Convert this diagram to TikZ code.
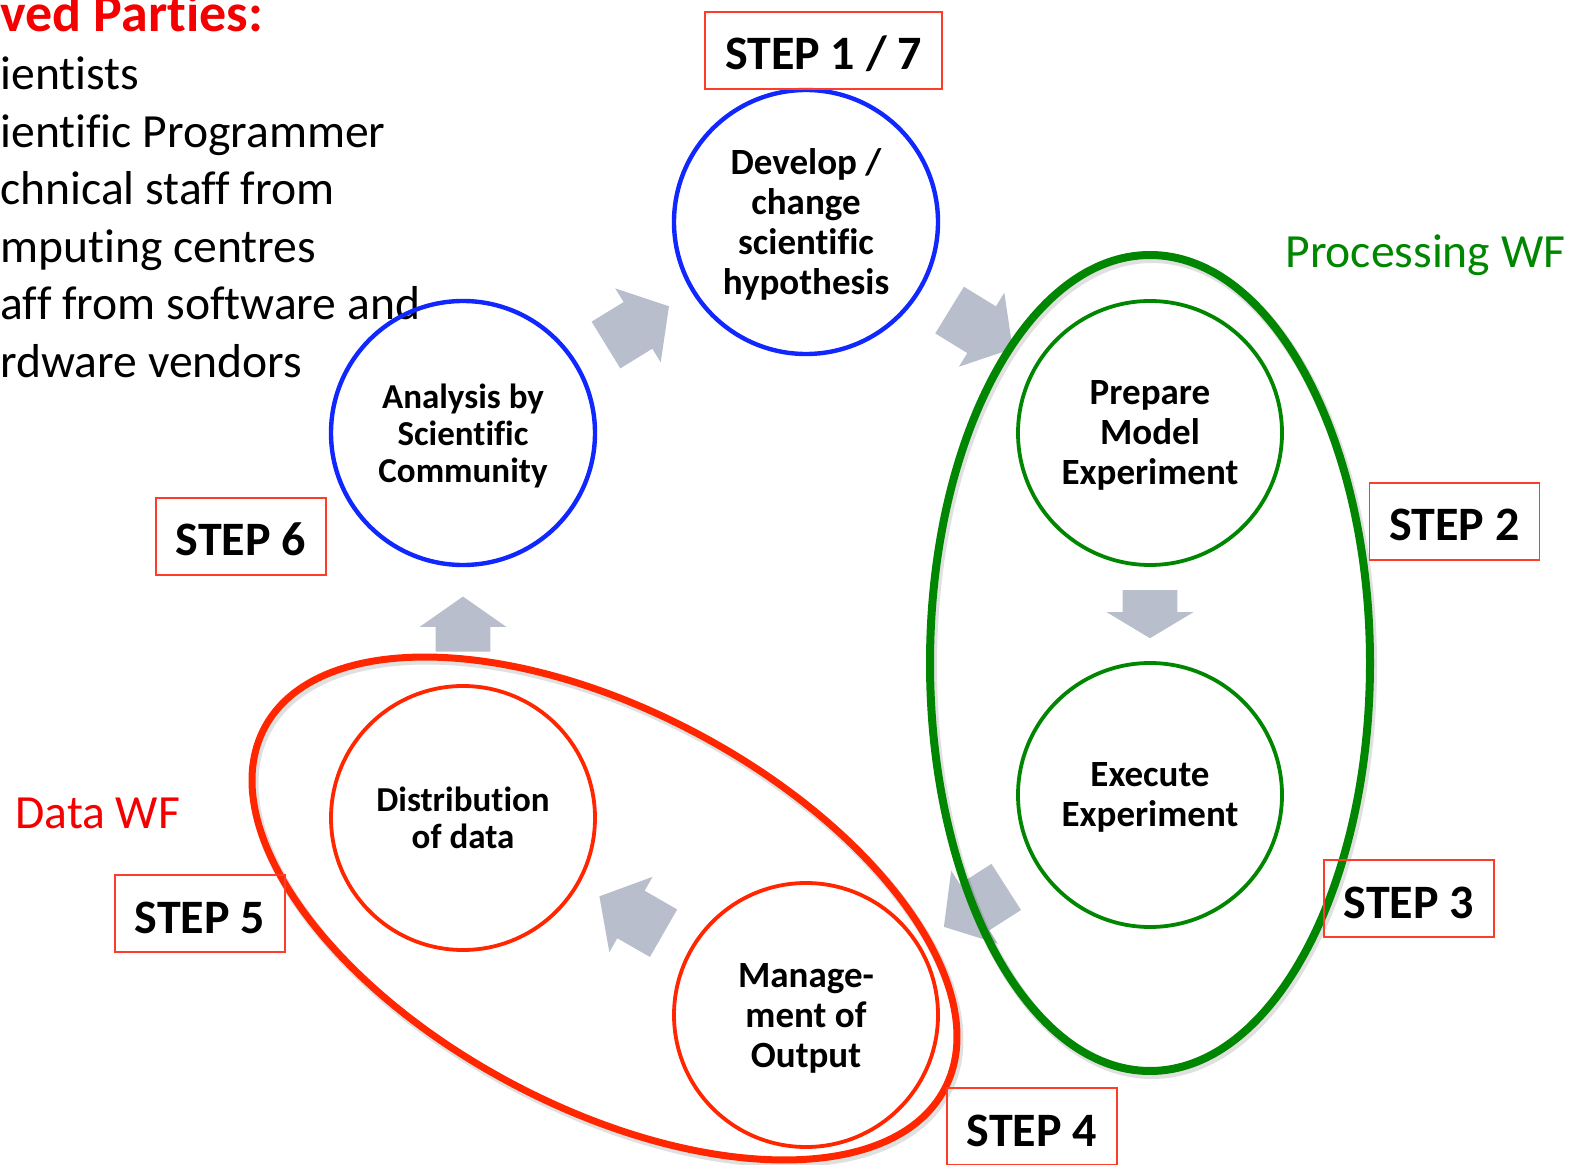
\documentclass[tikz,border=0pt]{standalone}
\usepackage{fontspec}
\setmainfont{Carlito}[Ligatures=NoCommon]
\usetikzlibrary{shapes.arrows}

\definecolor{cycblue}{RGB}{16,40,255}
\definecolor{cycgreen}{RGB}{0,134,0}
\definecolor{cycred}{RGB}{255,38,0}
\definecolor{boxred}{RGB}{255,60,40}
\definecolor{txtred}{RGB}{245,0,0}
\definecolor{arrowgray}{RGB}{184,190,204}

\tikzset{
  stage/.style={circle, draw, line width=1.9pt, minimum size=132pt, inner sep=0pt, align=center,
    text depth=0pt, font=\fontsize{18.5}{20}\selectfont\bfseries},
  stepbox/.style={draw=boxred, line width=0.75pt, minimum width=85pt, minimum height=38.5pt,
    inner sep=0pt, text height=19.5pt, text depth=0pt, font=\fontsize{24}{28}\selectfont\bfseries},
  flowarrow/.style={single arrow, fill=arrowgray, inner xsep=0pt, inner ysep=13.5pt,
    minimum width=43pt, single arrow head extend=8pt, single arrow tip angle=100,
    minimum height=37pt, sloped, allow upside down, xshift=-4pt},
  label/.style={anchor=base west, inner sep=0pt, font=\fontsize{23.8}{28}\selectfont},
}

\begin{document}
\begin{tikzpicture}[x=0.5pt, y=-0.5pt]
\useasboundingbox (0,0) rectangle (1569,1165);

\node[label, text=txtred, font=\fontsize{27}{30}\selectfont\bfseries] (parties) at (0,32) {ved Parties:};
\foreach \txt [count=\i from 0] in {ientists, ientific Programmer, chnical staff from,
    mputing centres, aff from software and, rdware vendors}
  \node[label] (party\i) at (0,{90+57.5*\i}) {\txt};

\node[label, text=cycgreen] (procwf) at (1285,268) {Processing WF};
\node[label, text=txtred] (datawf) at (15,828) {Data WF};

% steps of the cycle
\node[stage, draw=cycblue, line width=2.2pt] (dev) at (806,222) {Develop /\\change\\scientific\\hypothesis};
\node[stage, draw=cycgreen] (prep) at (1150,433) {Prepare\\Model\\Experiment};
\node[stage, draw=cycgreen] (exec) at (1150,795) {Execute\\Experiment};
\node[stage, draw=cycred] (mgmt) at (806,1015) {Manage-\\ment of\\Output};
\node[stage, draw=cycred, font=\fontsize{17.5}{18.5}\selectfont\bfseries] (dist) at (463,818) {Distribution\\of data};
\node[stage, draw=cycblue, line width=2.2pt, font=\fontsize{17.5}{18.5}\selectfont\bfseries] (ana) at (463,433) {Analysis by\\Scientific\\Community};

\path (ana) -- node[flowarrow] {} (dev);
\path (dev) -- node[flowarrow] {} (prep);
\path (prep) -- node[flowarrow, minimum height=24pt, single arrow tip angle=118] {} (exec);
\path (exec) -- node[flowarrow] {} (mgmt);
\path (mgmt) -- node[flowarrow] {} (dist);
\path (dist) -- node[flowarrow, minimum height=27.5pt, single arrow tip angle=110] {} (ana);

% workflow groups
\draw[black, opacity=0.12, line width=5pt] (1152,666) ellipse [x radius=110pt, y radius=204pt];
\draw[cycgreen, line width=4pt] (1150,663) ellipse [x radius=110pt, y radius=204pt];
\draw[black, opacity=0.12, line width=4.5pt, rotate around={-28:(606.5,911.5)}]
  (606.5,911.5) ellipse [x radius=192.5pt, y radius=99pt];
\draw[cycred, line width=3.5pt, rotate around={-28:(604.5,908.5)}]
  (604.5,908.5) ellipse [x radius=192.5pt, y radius=99pt];

\node[stepbox, minimum width=118.5pt] (s1) at (823.5,50.5) {STEP 1 / 7};
\node[stepbox] (s2) at (1454.5,521.5) {STEP 2};
\node[stepbox] (s3) at (1409,898.5) {STEP 3};
\node[stepbox] (s4) at (1032,1126.5) {STEP 4};
\node[stepbox] (s5) at (200,913.5) {STEP 5};
\node[stepbox] (s6) at (241,536.5) {STEP 6};
\end{tikzpicture}
\end{document}
